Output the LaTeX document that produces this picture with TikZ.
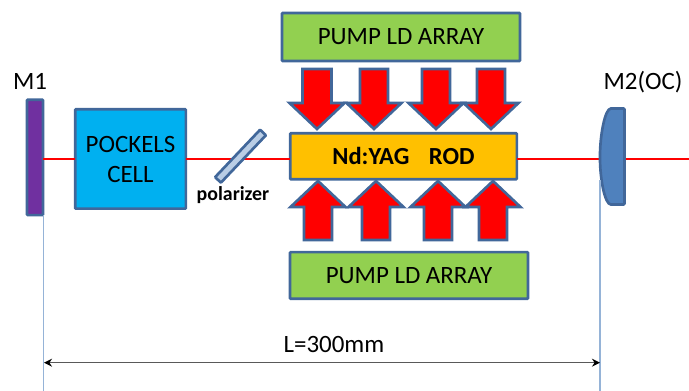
\documentclass[tikz,border=0pt]{standalone}
\usepackage{fontspec}
\usetikzlibrary{arrows.meta}
\setmainfont{Carlito}
\definecolor{edgeblue}{HTML}{41679A}
\definecolor{ruleblue}{HTML}{95B3D7}
\definecolor{polfill}{HTML}{B9CDE5}
\definecolor{lensblue}{HTML}{4F81BD}
\definecolor{mirror}{HTML}{7030A0}
\definecolor{cellblue}{HTML}{00B0F0}
\definecolor{rodgold}{HTML}{FFC000}
\definecolor{pumpgreen}{HTML}{92D050}
\tikzset{
  x=0.75pt,y=-0.75pt,
  boxstyle/.style={draw=edgeblue,line width=2pt,rounded corners=0.6pt,inner sep=0pt,outer sep=0pt,align=center,font=\fontsize{18.7}{22.5}\selectfont,text=black},
  beam/.style={draw=red,line width=1.5pt},
  guide/.style={draw=ruleblue,line width=1.2pt},
  pumparrow/.style={draw=edgeblue,fill=red,line width=2pt,miter limit=10},
  label/.style={inner sep=0pt,font=\fontsize{18.7}{22}\selectfont,text=black},
}
\newcommand{\pumpdown}[3]{%
  \draw[pumparrow] (#1-#2,69) -- (#1+#2,69) -- (#1+#2,103) -- (#1+#3,103) -- (#1,129) -- (#1-#3,103) -- (#1-#2,103) -- cycle;}
\newcommand{\pumpup}[3]{%
  \draw[pumparrow] (#1-#2,240) -- (#1+#2,240) -- (#1+#2,207) -- (#1+#3,207) -- (#1,181) -- (#1-#3,207) -- (#1-#2,207) -- cycle;}
\begin{document}
\begin{tikzpicture}
\useasboundingbox (0,0) rectangle (689,391);
% free ends
\coordinate (gl) at (43.5,391);
\coordinate (gr) at (600,391);
\coordinate (dl) at (44,362.7);
\coordinate (dr) at (600,362.7);
\coordinate (end) at (689,159);
% nodes
\node[boxstyle,fill=mirror,minimum width=12pt,minimum height=86.5pt] (m1) at (35,157.5) {};
\node[boxstyle,fill=cellblue,minimum width=83pt,minimum height=74.5pt] (pc) at (130.5,159) {POCKELS\\CELL};
\node[boxstyle,fill=rodgold,minimum width=170pt,minimum height=34.5pt,font=\fontsize{18.4}{22}\bfseries\selectfont] (rod) at (403.5,156.3) {Nd:YAG\hspace{0.8em}ROD};
\node[boxstyle,fill=pumpgreen,minimum width=178.5pt,minimum height=36pt] (pt) at (401,37) {PUMP LD ARRAY};
\node[boxstyle,fill=pumpgreen,minimum width=178.5pt,minimum height=35pt] (pb) at (409,275.5) {PUMP LD ARRAY};
% beam
\coordinate (lensl) at (600,159);
\coordinate (lensr) at (625,159);
\draw[beam] (m1.east |- lensl) -- (pc.west |- lensl);
\draw[beam] (pc.east |- lensl) -- (rod.west |- lensl);
\draw[beam] (rod.east |- lensl) -- (lensl);
\draw[beam] (lensr) -- (end);
% polarizer
\node[draw=edgeblue,fill=polfill,line width=2pt,rotate=46.5,minimum width=49pt,minimum height=6pt,inner sep=0pt,outer sep=0pt,rounded corners=0.5pt] (pol) at (240.5,156.2) {};
\node[label,font=\fontsize{14.9}{17}\bfseries\selectfont] (poltext) at (233,195) {polarizer};
% lens
\draw[draw=edgeblue,fill=lensblue,line width=2pt,rounded corners=0.8pt] (624.5,108.5) -- (612,108.5) .. controls (605,108.5) and (600,135) .. (600,157) .. controls (600,180) and (605,204.5) .. (612,204.5) -- (624.5,204.5) -- cycle;
% pump arrows
\pumpdown{317}{14.5}{27.5}
\pumpdown{374}{14}{27.5}
\pumpdown{436}{14}{27.5}
\pumpdown{491}{14}{27.5}
\pumpup{318}{14}{27.5}
\pumpup{376}{14}{27.5}
\pumpup{438}{14}{27.5}
\pumpup{493}{14}{27.5}
% guides
\draw[guide] (m1.south -| gl) -- (gl);
\draw[guide] (600,180) -- (gr);
\draw[draw=black!65,line width=1.2pt,{Stealth[length=6pt,width=6pt,black]}-{Stealth[length=6pt,width=6pt,black]}] (dl) -- (dr);
% labels
\node[label] (m1t) at (30,81) {M1};
\node[label] (m2t) at (643,82) {M2(OC)};
\node[label] (ltext) at (334,344) {L=300mm};
\end{tikzpicture}
\end{document}
